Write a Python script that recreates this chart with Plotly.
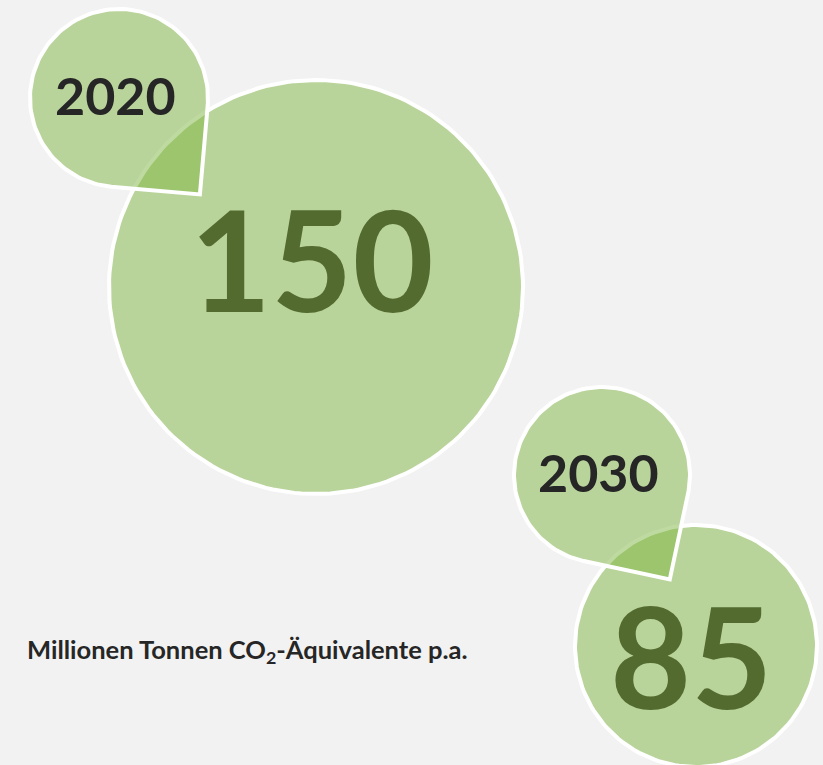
import math
import plotly.graph_objects as go

# ---- data ----
years = ["2020", "2030"]
values = [150, 85]
unit_label = "Millionen Tonnen CO<sub>2</sub>-Äquivalente p.a."

# ---- layout constants (pixel coordinates, y downwards) ----
W, H = 823, 765
BG = "#f2f2f2"
FILL = "rgba(128,182,66,0.5)"
VAL_COLOR = "#546b30"
YEAR_COLOR = "#262626"
FONT = "Lato"

circle_cx = [316, 696]
circle_cy = [287, 646]
circle_r = [207, 121]

pin_cx = [119, 602]
pin_cy = [98, 475]
pin_r = [89, 88]
pin_rot = [5, 12]          # degrees rotation of the tail
value_text_xy = [(312, 258), (691, 655)]
year_text_xy = [(115, 95), (598, 472)]

fig = go.Figure()


def circle_path(cx, cy, r, n=180):
    xs, ys = [], []
    for i in range(n + 1):
        a = 2 * math.pi * i / n
        xs.append(cx + r * math.cos(a))
        ys.append(cy + r * math.sin(a))
    return xs, ys


def teardrop(cx, cy, r, rot):
    xs, ys = [], []
    start = rot + 90
    end = rot + 360
    n = 120
    for i in range(n + 1):
        a = math.radians(start + (end - start) * i / n)
        xs.append(cx + r * math.cos(a))
        ys.append(cy + r * math.sin(a))
    t = math.radians(rot + 45)
    xs.append(cx + r * math.sqrt(2) * math.cos(t))
    ys.append(cy + r * math.sqrt(2) * math.sin(t))
    xs.append(xs[0]); ys.append(ys[0])
    return xs, ys


# big value circles
for i in range(len(values)):
    xs, ys = circle_path(circle_cx[i], circle_cy[i], circle_r[i])
    fig.add_trace(go.Scatter(
        x=xs, y=ys, mode="lines", fill="toself", fillcolor=FILL,
        line=dict(color="white", width=4),
        hoverinfo="skip", showlegend=False,
    ))

# pins (teardrop callouts)
for i in range(len(years)):
    xs, ys = teardrop(pin_cx[i], pin_cy[i], pin_r[i], pin_rot[i])
    fig.add_trace(go.Scatter(
        x=xs, y=ys, mode="lines", fill="toself", fillcolor=FILL,
        line=dict(color="white", width=4),
        hoverinfo="skip", showlegend=False,
    ))

for i in range(len(years)):
    fig.add_annotation(x=value_text_xy[i][0], y=value_text_xy[i][1],
                       text=str(values[i]), showarrow=False,
                       xanchor="center", yanchor="middle",
                       font=dict(family=FONT, size=140, color=VAL_COLOR, weight="bold"))
    fig.add_annotation(x=year_text_xy[i][0], y=year_text_xy[i][1],
                       text=years[i], showarrow=False,
                       xanchor="center", yanchor="middle",
                       font=dict(family=FONT, size=52, color=YEAR_COLOR, weight="bold"))

fig.add_annotation(x=25, y=651, text=unit_label, showarrow=False,
                   xanchor="left", yanchor="middle",
                   font=dict(family=FONT, size=25.5, color=YEAR_COLOR, weight="bold"))

fig.update_xaxes(range=[0, W], visible=False, fixedrange=True)
fig.update_yaxes(range=[H, 0], visible=False, fixedrange=True)
fig.update_layout(
    width=W, height=H, margin=dict(l=0, r=0, t=0, b=0, pad=0),
    paper_bgcolor=BG, plot_bgcolor=BG, showlegend=False,
)

fig.write_html("out.html", config={"displayModeBar": False},
               post_script="document.body.style.margin='0';")
